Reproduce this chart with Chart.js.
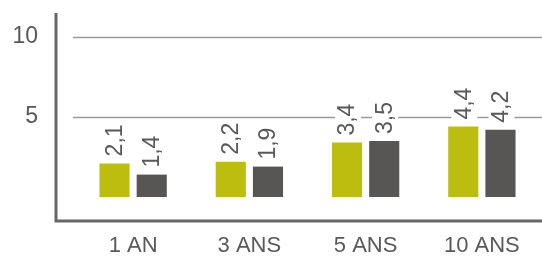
<!DOCTYPE html>
<html>
<head>
<meta charset="utf-8">
<script src="https://cdn.jsdelivr.net/npm/chart.js@4/dist/chart.umd.min.js"></script>
<style>
  html, body { margin: 0; padding: 0; background: #fff; }
  #wrap { width: 542px; height: 267px; }
</style>
</head>
<body>
<div id="wrap"><canvas id="chart"></canvas></div>
<script>
const periods = ["1 AN", "3 ANS", "5 ANS", "10 ANS"];
const seriesGreen = [2.1, 2.2, 3.4, 4.4];
const seriesGrey = [1.4, 1.9, 3.5, 4.2];
const yTicks = [5, 10];

const FONT = '"Liberation Sans", Arial, sans-serif';
const TEXT = "#595959";

// axis lines + gridlines (gridlines start a bit right of the y axis)
const axesPlugin = {
  id: "axes",
  beforeDatasetsDraw(chart) {
    const { ctx, chartArea, scales } = chart;
    const y = scales.y;
    ctx.save();
    ctx.strokeStyle = "#9a9a9a";
    ctx.lineWidth = 1.5;
    yTicks.forEach((v) => {
      const py = Math.round(y.getPixelForValue(v)) + 0.5;
      ctx.beginPath();
      ctx.moveTo(chartArea.left - 2, py);
      ctx.lineTo(chart.width, py);
      ctx.stroke();
    });
    ctx.strokeStyle = "#666";
    ctx.lineWidth = 3;
    const axisX = 56;
    ctx.beginPath();
    ctx.moveTo(axisX, chartArea.top);
    ctx.lineTo(axisX, chartArea.bottom);
    ctx.lineTo(chart.width, chartArea.bottom);
    ctx.stroke();
    ctx.restore();
  },
};

// rotated value labels with white box behind
const labelPlugin = {
  id: "valueLabels",
  afterDatasetsDraw(chart) {
    const { ctx } = chart;
    ctx.save();
    ctx.font = "23px " + FONT;
    chart.data.datasets.forEach((ds, i) => {
      chart.getDatasetMeta(i).data.forEach((bar, j) => {
        const txt = String(ds.data[j]).replace(".", ",");
        const w = ctx.measureText(txt).width;
        ctx.save();
        ctx.translate(bar.x + 1, bar.y - 7);
        ctx.rotate(-Math.PI / 2);
        ctx.fillStyle = "#fff";
        ctx.fillRect(-2, -13, w + 4, 26);
        ctx.fillStyle = TEXT;
        ctx.textAlign = "left";
        ctx.textBaseline = "middle";
        ctx.fillText(txt, 0, 0);
        ctx.restore();
      });
    });
    ctx.restore();
  },
};

new Chart(document.getElementById("chart"), {
  type: "bar",
  data: {
    labels: periods,
    datasets: [
      { data: seriesGreen, backgroundColor: "#bbbd0f" },
      { data: seriesGrey, backgroundColor: "#575655" },
    ],
  },
  options: {
    responsive: true,
    maintainAspectRatio: false,
    animation: false,
    layout: { padding: { top: 13, right: 2, left: 0, bottom: 0 } },
    datasets: { bar: { categoryPercentage: 0.64, barPercentage: 0.81 } },
    plugins: { legend: { display: false }, tooltip: { enabled: false } },
    scales: {
      x: {
        grid: { display: false, drawTicks: false },
        border: { display: false },
        ticks: { color: TEXT, font: { family: FONT, size: 22 }, padding: 12, maxRotation: 0 },
        afterFit(scale) { scale.height = 46; },
      },
      y: {
        min: -1.5,
        max: 11.5,
        grid: { display: false, drawTicks: false },
        border: { display: false },
        afterBuildTicks(scale) { scale.ticks = yTicks.map((v) => ({ value: v })); },
        ticks: { color: TEXT, font: { family: FONT, size: 23 }, padding: 37 },
        afterFit(scale) {
          scale.width = 75;
          scale.paddingTop = 0;
          scale.paddingBottom = 0;
        },
      },
    },
  },
  plugins: [axesPlugin, labelPlugin],
});
</script>
</body>
</html>
